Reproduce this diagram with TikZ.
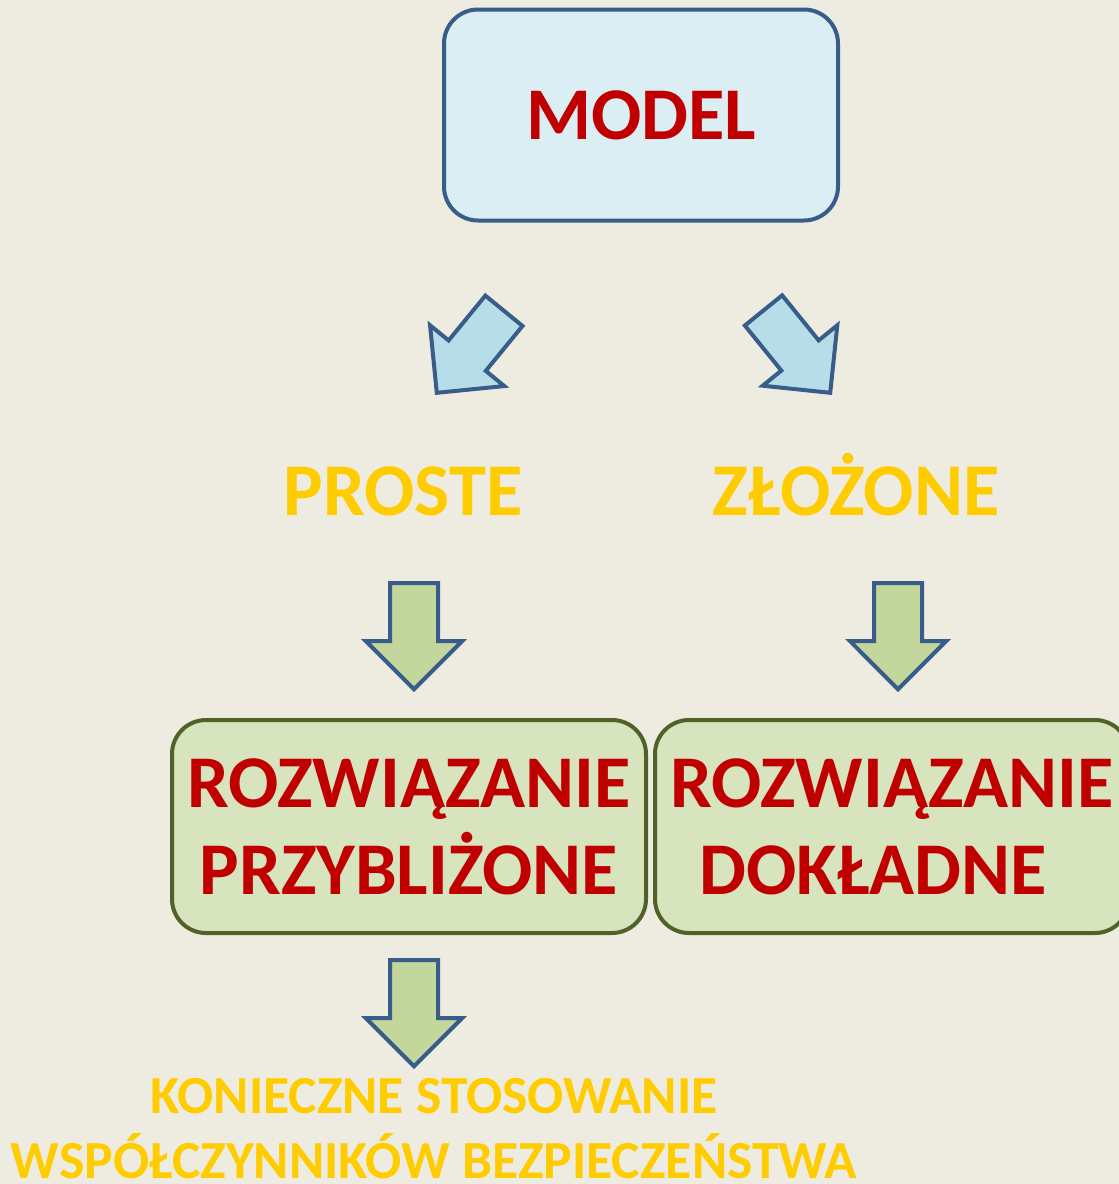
\documentclass[tikz,border=0pt]{standalone}
\usepackage{fontspec}
\setmainfont{Carlito}
\usetikzlibrary{shapes.arrows}

\definecolor{slide-bg}{HTML}{EEECE1}
\definecolor{outline-blue}{HTML}{385D8A}
\definecolor{model-fill}{HTML}{DBEEF4}
\definecolor{arrow-blue}{HTML}{B7DEE8}
\definecolor{arrow-green}{HTML}{C3D69B}
\definecolor{result-fill}{HTML}{D7E4BD}
\definecolor{result-line}{HTML}{4F6228}
\definecolor{title-red}{HTML}{C00000}
\definecolor{label-yellow}{HTML}{FFCC00}

\begin{document}
\begin{tikzpicture}[x=0.5pt, y=-0.5pt]
        \tikzstyle{model-box}=[draw=outline-blue, fill=model-fill, line width=2pt, rounded corners=17pt, minimum width=197pt, minimum height=105.5pt, text=title-red, font=\bfseries\fontsize{37.2}{44}\selectfont]
        \tikzstyle{result-box}=[draw=result-line, fill=result-fill, line width=2pt, rounded corners=17pt, minimum width=237pt, minimum height=106.5pt, align=center, text=title-red, font=\bfseries\fontsize{37.2}{43.5}\selectfont]
        \tikzstyle{kind-label}=[text=label-yellow, anchor=base, font=\bfseries\fontsize{37.2}{44}\selectfont]
        \tikzstyle{block-arrow}=[single arrow, draw=outline-blue, line width=2pt, inner xsep=0pt, inner ysep=11pt, single arrow head extend=12pt, single arrow tip angle=90, minimum height=53pt, anchor=tip]
        \tikzstyle{split-arrow}=[block-arrow, fill=arrow-blue]
        \tikzstyle{solve-arrow}=[block-arrow, fill=arrow-green, rotate=-90]

        \useasboundingbox (0,0) rectangle (1119,1184);
        \clip (0,0) rectangle (1119,1184);
        \fill[slide-bg] (0,0) rectangle (1119,1184);

        % \draw[step=100] (0,0) grid (1119,1184);
        \node[model-box] (model) at (641,115) {MODEL};

        \node[split-arrow, rotate=-129.3] (to-simple) at (435,395) {};
        \node[split-arrow, rotate=-51] (to-complex) at (832,395) {};

        \node[kind-label] (simple) at (403,515) {PROSTE};
        \node[kind-label] (complex) at (856,515) {ZŁOŻONE};

        \node[solve-arrow] (to-approx) at (414,692) {};
        \node[solve-arrow] (to-exact) at (898,692) {};

        \node[result-box] (approx) at (409,826.5) {ROZWIĄZANIE\\PRZYBLIŻONE};
        \node[result-box] (exact) at (892,826.5) {ROZWIĄZANIE\\DOKŁADNE\hspace*{0.5em}};

        \node[solve-arrow] (to-safety) at (414,1069) {};
        \node[align=center, text=label-yellow, font=\bfseries\fontsize{26.8}{32.5}\selectfont] (safety) at (434,1129) {KONIECZNE STOSOWANIE\\WSPÓŁCZYNNIKÓW BEZPIECZEŃSTWA};
    \end{tikzpicture}
\end{document}
